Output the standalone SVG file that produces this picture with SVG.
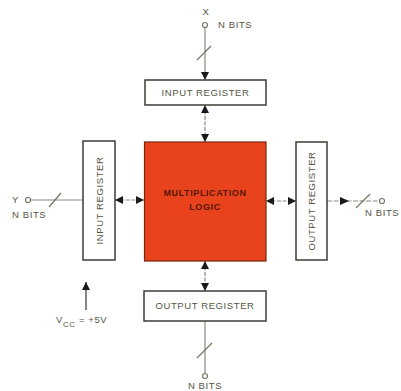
<svg xmlns="http://www.w3.org/2000/svg" width="401" height="391" viewBox="0 0 401 391">
<style>
.reg{fill:#fff;stroke:#3d3d35;stroke-width:1.5}
.t{font-family:"Liberation Sans",Arial,sans-serif;font-size:9.5px;fill:#55553f;letter-spacing:0.6px}
.tc{text-anchor:middle}
.ln{stroke:#8a8a80;stroke-width:1.2;fill:none}
.sl{stroke:#77776a;stroke-width:1.3}
.pin{fill:#fff;stroke:#77776a;stroke-width:1.2}
.lt{font-family:"Liberation Sans",Arial,sans-serif;font-size:9px;font-weight:bold;fill:#5a1608;letter-spacing:0.6px;text-anchor:middle}
</style>
<defs>
<marker id="ah" viewBox="0 0 10 10" refX="10" refY="5" markerWidth="8" markerHeight="8" markerUnits="userSpaceOnUse" orient="auto-start-reverse">
<path d="M0,0 L10,5 L0,10 Z" fill="#1a1a1a"/>
</marker>
</defs>
<rect width="401" height="391" fill="#fff"/>
<g id="connectors">
<line class="ln" x1="205" y1="28" x2="205" y2="80" marker-end="url(#ah)"/>
<line class="sl" x1="197" y1="60" x2="211" y2="46"/>
<line class="ln" x1="205" y1="105" x2="205" y2="142" marker-start="url(#ah)" marker-end="url(#ah)" stroke-dasharray="4,1.5"/>
<line class="ln" x1="31" y1="200" x2="83" y2="200"/>
<line class="sl" x1="49" y1="207" x2="61" y2="193"/>
<line class="ln" x1="115" y1="200" x2="144" y2="200" marker-start="url(#ah)" marker-end="url(#ah)" stroke-dasharray="4,1.5"/>
<line class="ln" x1="266" y1="201" x2="296" y2="201" marker-start="url(#ah)" marker-end="url(#ah)" stroke-dasharray="4,1.5"/>
<line class="ln" x1="327" y1="201" x2="379" y2="201" stroke-dasharray="5,1.5"/>
<path d="M340,197 L349,201 L340,205 Z" fill="#1a1a1a"/>
<line class="sl" x1="356" y1="208" x2="370" y2="194"/>
<line class="ln" x1="205" y1="261" x2="205" y2="291" marker-start="url(#ah)" marker-end="url(#ah)" stroke-dasharray="4,1.5"/>
<line class="ln" x1="205" y1="321" x2="205" y2="373"/>
<line class="sl" x1="197" y1="358" x2="212" y2="343"/>
<line x1="86" y1="310" x2="86" y2="282" stroke="#333" stroke-width="1.2" marker-end="url(#ah)"/>
</g>
<g id="x-pin">
<text class="t tc" x="206" y="15">X</text>
<circle class="pin" cx="205" cy="25" r="2.5"/>
<text class="t" x="218" y="28">N BITS</text>
</g>
<g id="input-register-top">
<rect class="reg" x="145" y="80" width="121" height="25"/>
<text class="t tc" x="205.5" y="96">INPUT REGISTER</text>
</g>
<g id="multiplication-logic">
<rect x="144.5" y="142" width="121.5" height="119" fill="#e8431d" stroke="#7a2410" stroke-width="1.2"/>
<text class="lt" x="205" y="196">MULTIPLICATION</text>
<text class="lt" x="205" y="210">LOGIC</text>
</g>
<g id="y-pin">
<text class="t" x="12" y="203">Y</text>
<circle class="pin" cx="28" cy="200" r="2.5"/>
<text class="t" x="12" y="218">N BITS</text>
</g>
<g id="input-register-left">
<rect class="reg" x="83" y="141" width="32" height="119"/>
<text class="t tc" transform="translate(102.5,200.5) rotate(-90)">INPUT REGISTER</text>
</g>
<g id="output-register-right">
<rect class="reg" x="296" y="142" width="31" height="118"/>
<text class="t tc" transform="translate(314.5,201) rotate(-90)">OUTPUT REGISTER</text>
</g>
<g id="right-pin">
<circle class="pin" cx="382" cy="201" r="2.5"/>
<text class="t" x="365" y="216">N BITS</text>
</g>
<g id="output-register-bottom">
<rect class="reg" x="144" y="291" width="122" height="30"/>
<text class="t tc" x="205" y="309">OUTPUT REGISTER</text>
</g>
<g id="bottom-pin">
<circle class="pin" cx="205" cy="376" r="2.5"/>
<text class="t tc" x="205" y="389">N BITS</text>
</g>
<g id="vcc">
<text class="t" x="56" y="323">V<tspan font-size="8" dy="4">CC</tspan><tspan dy="-4"> = +5V</tspan></text>
</g>
</svg>
